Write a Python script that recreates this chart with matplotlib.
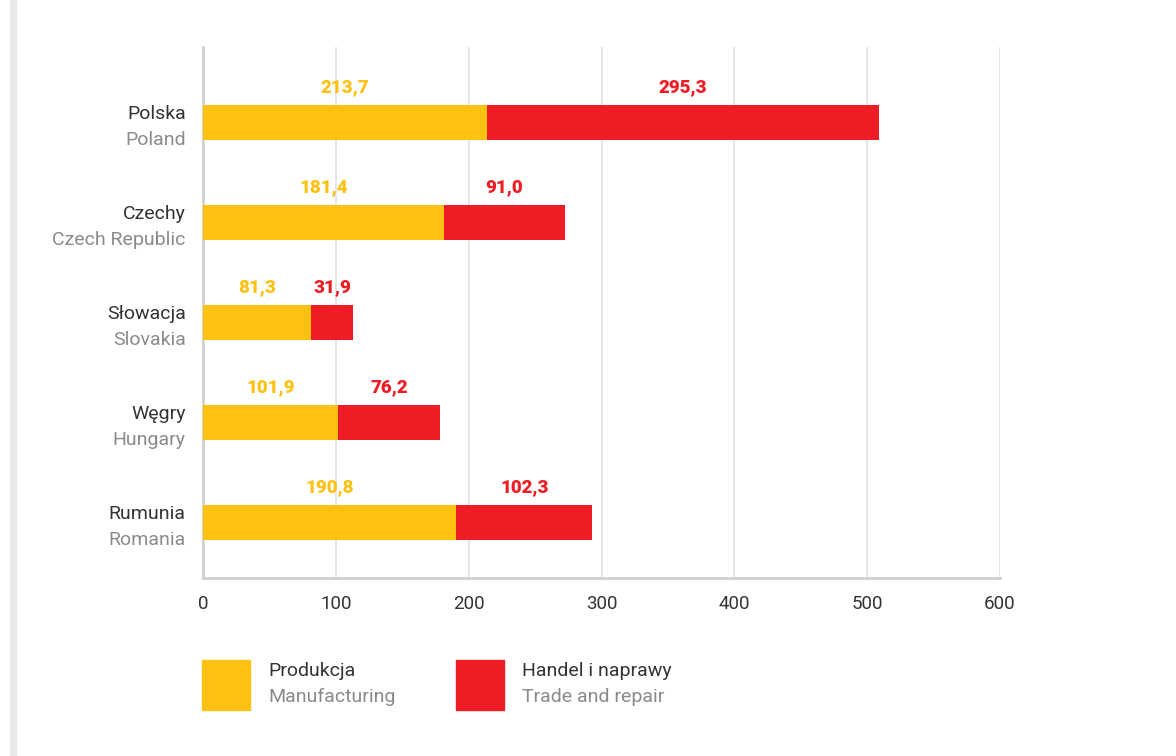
import matplotlib.pyplot as plt
from matplotlib.patches import Rectangle

countries_pl = ["Polska", "Czechy", "Słowacja", "Węgry", "Rumunia"]
countries_en = ["Poland", "Czech Republic", "Slovakia", "Hungary", "Romania"]
manufacturing = [213.7, 181.4, 81.3, 101.9, 190.8]
trade = [295.3, 91.0, 31.9, 76.2, 102.3]
x_ticks = [0, 100, 200, 300, 400, 500, 600]

YELLOW = "#FDC111"
RED = "#EE1C25"
DARK = "#333333"
GRAY = "#8a8a8a"

plt.rcParams['font.family'] = ['Roboto', 'DejaVu Sans']

fig = plt.figure(figsize=(11.76, 7.56), dpi=100)
W, H = 1176, 756
ax = fig.add_axes([203 / W, 1 - 578 / H, (1000 - 203) / W, (578 - 47) / H])

# gray strip on the left edge
fig.patches.append(Rectangle((10 / W, 0), 6 / W, 1, transform=fig.transFigure,
                             color="#e8e8e8", zorder=0))

y = list(range(len(countries_pl)))
ax.barh(y, manufacturing, height=0.35, color=YELLOW, zorder=3)
ax.barh(y, trade, left=manufacturing, height=0.35, color=RED, zorder=3)

for i in y:
    m, t = manufacturing[i], trade[i]
    ax.text(m / 2, i - 0.35, f"{m:.1f}".replace(".", ","), ha="center", va="center",
            color=YELLOW, fontsize=13.5, fontweight=900)
    ax.text(m + t / 2, i - 0.35, f"{t:.1f}".replace(".", ","), ha="center", va="center",
            color=RED, fontsize=13.5, fontweight=900)
    ax.text(-13, i - 0.08, countries_pl[i], ha="right", va="center",
            color=DARK, fontsize=14)
    ax.text(-13, i + 0.18, countries_en[i], ha="right", va="center",
            color=GRAY, fontsize=14)

ax.set_xlim(0, 600)
ax.set_ylim(4.56, -0.75)
ax.set_xticks(x_ticks)
ax.set_xticklabels([str(v) for v in x_ticks], fontsize=13.5, color=DARK)
ax.set_yticks([])
ax.tick_params(axis="x", length=0, pad=12)
ax.grid(axis="x", color="#e2e2e2", linewidth=1.2, zorder=0)
for s in ["top", "right"]:
    ax.spines[s].set_visible(False)
ax.spines["left"].set_color("#d0d0d0")
ax.spines["left"].set_linewidth(2)
ax.spines["bottom"].set_color("#d0d0d0")
ax.spines["bottom"].set_linewidth(2)

# legend
legend_items = [(202, YELLOW, "Produkcja", "Manufacturing"),
                (456, RED, "Handel i naprawy", "Trade and repair")]
for x0, col, pl, en in legend_items:
    fig.patches.append(Rectangle((x0 / W, 1 - 710 / H), 48 / W, 50 / H,
                                 transform=fig.transFigure, color=col))
    fig.text((x0 + 66) / W, 1 - 671 / H, pl, ha="left", va="center",
             color=DARK, fontsize=14)
    fig.text((x0 + 66) / W, 1 - 697 / H, en, ha="left", va="center",
             color=GRAY, fontsize=14)

fig.savefig("out.png", dpi=100)
